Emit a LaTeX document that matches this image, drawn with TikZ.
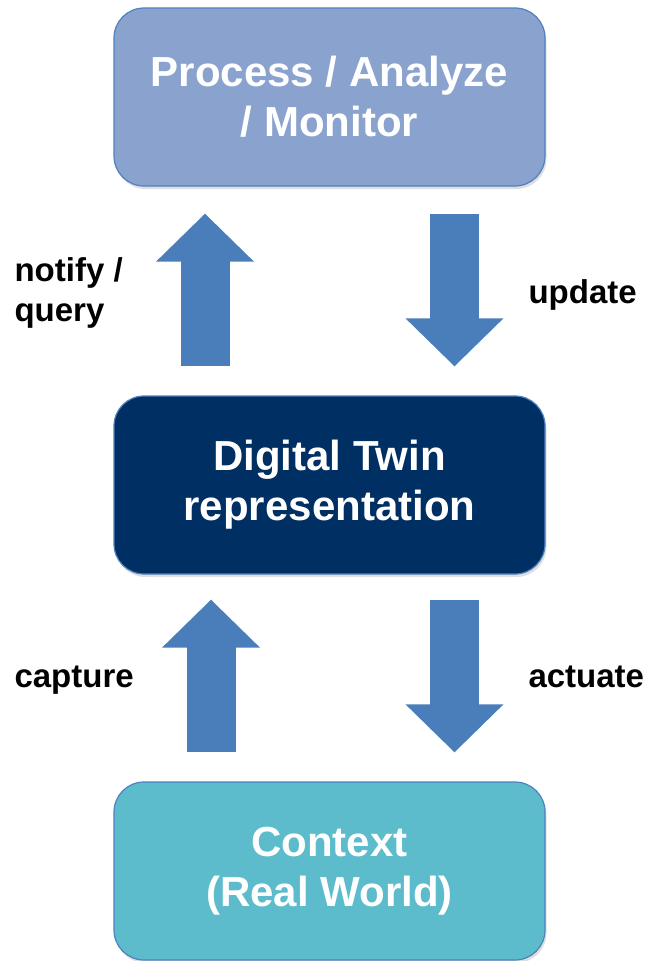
\documentclass[tikz,border=0pt]{standalone}
\usepackage{fontspec}
\setmainfont{Liberation Sans}
\usetikzlibrary{arrows.meta,shadows}
\definecolor{procblue}{HTML}{8AA2CE}
\definecolor{edgeblue}{HTML}{4F81BD}
\definecolor{twinnavy}{HTML}{002F63}
\definecolor{ctxteal}{HTML}{5CBCCC}
\definecolor{arrblue}{HTML}{4A7EBB}
\begin{document}
\begin{tikzpicture}[
    x=1pt, y=-1pt,
    box/.style={draw=edgeblue, line width=1.2pt, rounded corners=30pt, minimum width=431pt, minimum height=178pt, align=center, text=white, font=\fontsize{42}{50}\selectfont\bfseries, drop shadow={shadow xshift=1.5pt, shadow yshift=-3pt, opacity=0.25}},
    blockarr/.style={draw=arrblue, line width=49pt, -{Triangle[width=95pt,length=48pt]}},
    lbl/.style={anchor=base west, font=\fontsize{33}{40}\selectfont\bfseries, align=left}
]
    \useasboundingbox (0,0) rectangle (649,961);
    \node[box, fill=procblue] (proc) at (329.5, 97) {Process / Analyze\\/ Monitor};
    \node[box, fill=twinnavy] (twin) at (329.5, 485) {Digital Twin\\representation};
    \node[box, fill=ctxteal] (ctx) at (329.5, 871) {Context\\(Real World)};
    \draw[blockarr] ([xshift=-124.5pt, yshift=29pt]twin.north) -- ([xshift=-124.5pt, yshift=-27pt]proc.south);
    \draw[blockarr] ([xshift=125pt, yshift=-27pt]proc.south) -- ([xshift=125pt, yshift=29pt]twin.north);
    \draw[blockarr] ([xshift=-118.5pt, yshift=29pt]ctx.north) -- ([xshift=-118.5pt, yshift=-25pt]twin.south);
    \draw[blockarr] ([xshift=125pt, yshift=-25pt]twin.south) -- ([xshift=125pt, yshift=29pt]ctx.north);
    \node[lbl] (notify) at (11, 321) {notify /\\query};
    \node[lbl] (update) at (525, 303) {update};
    \node[lbl] (capture) at (11, 687) {capture};
    \node[lbl] (actuate) at (525, 687) {actuate};
\end{tikzpicture}
\end{document}
